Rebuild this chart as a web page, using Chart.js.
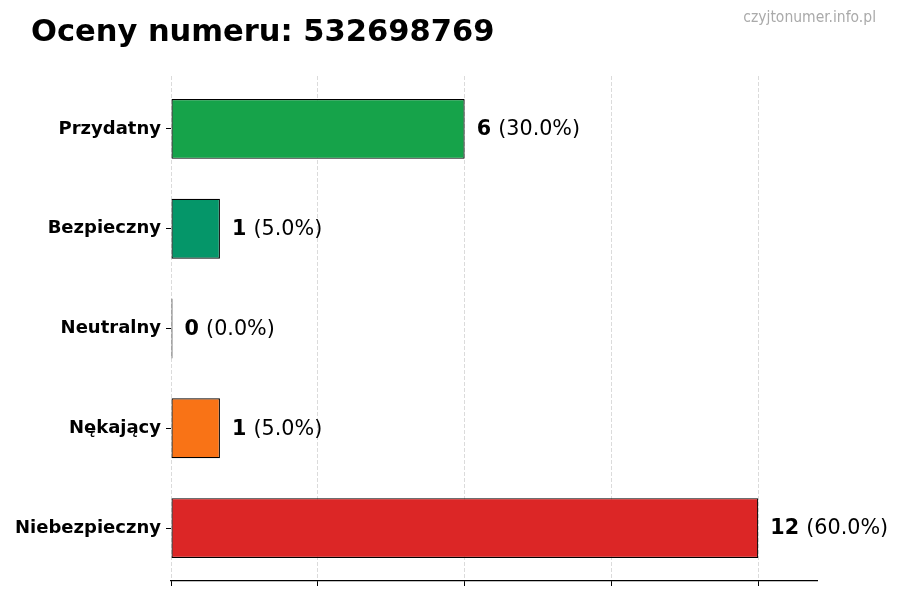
<!DOCTYPE html>
<html>
<head>
<meta charset="utf-8">
<script src="https://cdn.jsdelivr.net/npm/chart.js@4"></script>
<style>
  html, body { margin: 0; padding: 0; background: #fff; }
  #wrap { width: 900px; height: 600px; }
</style>
</head>
<body>
<div id="wrap"><canvas id="myChart" width="900" height="600"></canvas></div>
<script>
// chart data
var categories = ['Przydatny', 'Bezpieczny', 'Neutralny', 'Nękający', 'Niebezpieczny'];
var counts = [6, 1, 0, 1, 12];
var percents = [30.0, 5.0, 0.0, 5.0, 60.0];
var barColors = ['#16a34a', '#059669', '#374151', '#f97316', '#dc2626'];
var xTicks = [0, 3, 6, 9, 12];
var xMax = 13.2;
var titleText = 'Oceny numeru: 532698769';
var siteText = 'czyjtonumer.info.pl';

// bars sit on a linear index axis so the margins match the original
var points = counts.map(function(c, i) { return { x: c, y: i }; });

// title, watermark and value labels
var decorPlugin = {
	id: 'decor',
	beforeDraw: function(chart) {
		var ctx = chart.ctx;
		ctx.save();
		ctx.fillStyle = '#fff';
		ctx.fillRect(0, 0, chart.width, chart.height);
		ctx.fillStyle = '#000';
		ctx.font = 'bold 30.5px "DejaVu Sans"';
		ctx.textBaseline = 'alphabetic';
		ctx.textAlign = 'left';
		ctx.fillText(titleText, 31, 41);
		ctx.fillStyle = '#aaaaaa';
		ctx.font = '15.5px "DejaVu Sans Condensed", "DejaVu Sans"';
		ctx.textAlign = 'right';
		ctx.fillText(siteText, 876, 22);
		ctx.restore();
	},
	afterDatasetsDraw: function(chart) {
		var ctx = chart.ctx;
		var meta = chart.getDatasetMeta(0);
		ctx.save();
		ctx.textBaseline = 'middle';
		ctx.textAlign = 'left';
		ctx.fillStyle = '#000';
		meta.data.forEach(function(bar, i) {
			var x = bar.x + 12;
			var num = String(counts[i]);
			ctx.font = 'bold 20.7px "DejaVu Sans"';
			ctx.fillText(num, x, bar.y + 1);
			x += ctx.measureText(num + ' ').width;
			ctx.font = '20.7px "DejaVu Sans"';
			ctx.fillText('(' + percents[i].toFixed(1) + '%)', x, bar.y + 1);
		});
		ctx.restore();
	}
};

var ctx = document.getElementById('myChart').getContext('2d');
var myChart = new Chart(ctx, {
	type: 'bar',
	data: {
		datasets: [{
			data: points,
			backgroundColor: barColors,
			borderColor: '#000',
			borderWidth: 1.2,
			borderSkipped: false,
			minBarLength: 1.5,
			barPercentage: 0.6,
			categoryPercentage: 1
		}]
	},
	plugins: [decorPlugin],
	options: {
		indexAxis: 'y',
		responsive: false,
		animation: false,
		layout: { padding: { top: 76, right: 83, left: 0, bottom: 0 } },
		plugins: {
			legend: { display: false },
			tooltip: { enabled: false }
		},
		scales: {
			x: {
				type: 'linear',
				min: 0,
				max: xMax,
				z: 1,
				afterBuildTicks: function(scale) {
					scale.ticks = xTicks.map(function(v) { return { value: v }; });
				},
				afterFit: function(scale) { scale.height = 19; },
				ticks: { display: false },
				grid: {
					color: 'rgba(0,0,0,0.14)',
					lineWidth: 1,
					tickLength: 5,
					tickColor: '#000',
					tickWidth: 1
				},
				border: { display: true, color: '#000', width: 1.2, dash: [4, 2] }
			},
			y: {
				type: 'linear',
				reverse: true,
				offset: false,
				min: -0.53,
				max: 4.53,
				afterBuildTicks: function(scale) {
					scale.ticks = categories.map(function(c, i) { return { value: i }; });
				},
				afterFit: function(scale) { scale.width = 171; },
				ticks: {
					color: '#000',
					padding: 5,
					font: { family: 'DejaVu Sans', weight: 'bold', size: 18 },
					callback: function(v) { return categories[v]; }
				},
				grid: {
					offset: false,
					drawOnChartArea: false,
					tickLength: 5,
					tickColor: '#000',
					tickWidth: 1
				},
				border: { display: false }
			}
		}
	}
});
</script>
</body>
</html>
